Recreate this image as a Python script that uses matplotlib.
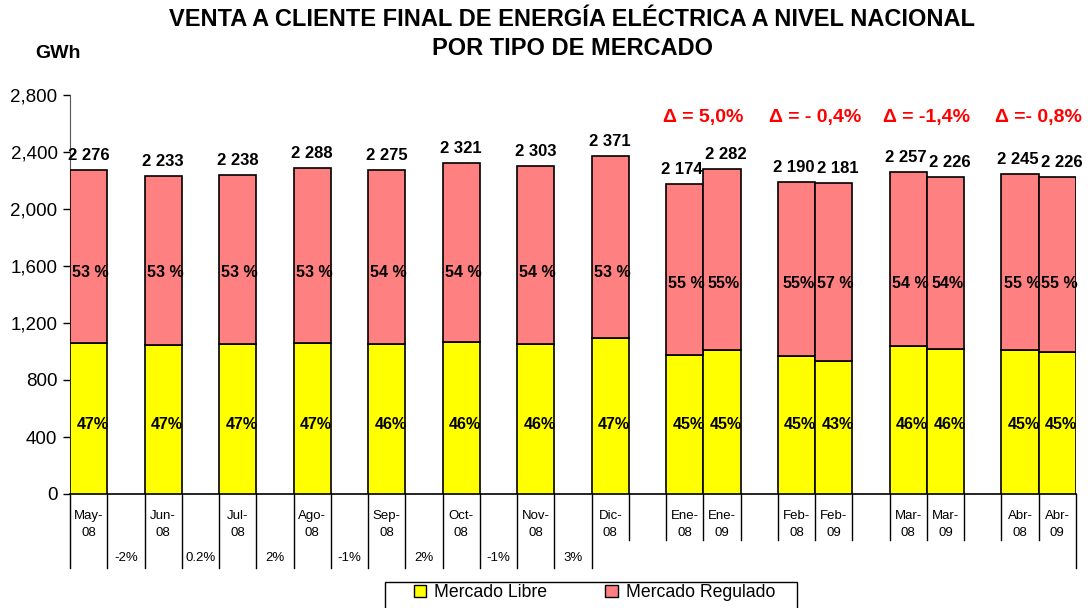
import matplotlib
matplotlib.use("Agg")
import matplotlib.pyplot as plt
from matplotlib.patches import Patch, Rectangle
import matplotlib.transforms as mtransforms
from matplotlib.ticker import FuncFormatter

plt.rcParams['font.family'] = ['Liberation Sans', 'DejaVu Sans']

# ---- data ----
slot_labels = ["May-\n08", "", "Jun-\n08", "", "Jul-\n08", "", "Ago-\n08", "", "Sep-\n08", "",
               "Oct-\n08", "", "Nov-\n08", "", "Dic-\n08", "", "Ene-\n08", "Ene-\n09", "",
               "Feb-\n08", "Feb-\n09", "", "Mar-\n08", "Mar-\n09", "", "Abr-\n08", "Abr-\n09"]
gap_labels = ["", "-2%", "", "0.2%", "", "2%", "", "-1%", "", "2%", "", "-1%", "", "3%", "",
              "", "", "", "", "", "", "", "", "", "", "", ""]
bar_slots = [0, 2, 4, 6, 8, 10, 12, 14, 16, 17, 19, 20, 22, 23, 25, 26]
totals = [2276, 2233, 2238, 2288, 2275, 2321, 2303, 2371, 2174, 2282, 2190, 2181, 2257, 2226, 2245, 2226]
libre = [1060, 1048, 1050, 1062, 1050, 1068, 1055, 1097, 975, 1010, 968, 930, 1040, 1020, 1012, 1000]
regulado = [t - l for t, l in zip(totals, libre)]
total_labels = ["2 276", "2 233", "2 238", "2 288", "2 275", "2 321", "2 303", "2 371", "2 174", "2 282",
                "2 190", "2 181", "2 257", "2 226", "2 245", "2 226"]
reg_pct = ["53 %", "53 %", "53 %", "53 %", "54 %", "54 %", "54 %", "53 %", "55 %", "55%",
           "55%", "57 %", "54 %", "54%", "55 %", "55 %"]
lib_pct = ["47%", "47%", "47%", "47%", "46%", "46%", "46%", "47%", "45%", "45%",
           "45%", "43%", "46%", "46%", "45%", "45%"]
delta_labels = ["\u0394 = 5,0%", "\u0394 = - 0,4%", "\u0394 = -1,4%", "\u0394 =- 0,8%"]
delta_pairs = [(16, 17), (19, 20), (22, 23), (25, 26)]
yticks = [0, 400, 800, 1200, 1600, 2000, 2400, 2800]

YELLOW = "#FFFF00"
PINK = "#FF8080"

fig = plt.figure(figsize=(10.88, 6.08), dpi=100)
ax = fig.add_axes([70 / 1088, 1 - 494 / 608, 1006 / 1088, 399 / 608])

ax.bar(bar_slots, libre, width=1.0, color=YELLOW, edgecolor="black", linewidth=1.2, zorder=3)
ax.bar(bar_slots, regulado, bottom=libre, width=1.0, color=PINK, edgecolor="black", linewidth=1.2, zorder=3)

n_slots = len(slot_labels)
ax.set_xlim(-0.5, n_slots - 0.5)
ax.set_ylim(0, 2800)
ax.set_yticks(yticks)
ax.yaxis.set_major_formatter(FuncFormatter(lambda v, p: f"{int(v):,}"))
ax.tick_params(axis='y', labelsize=13.5, length=5, width=1, direction='out', pad=4)
ax.set_xticks([])
for s in ['top', 'right']:
    ax.spines[s].set_visible(False)
ax.spines['left'].set_color('#555555')
ax.spines['bottom'].set_linewidth(1.2)

# totals and percentages
pair_right = {17, 20, 23, 26}
for i, s in enumerate(bar_slots):
    dx = 3 if s in pair_right else (-2 if s in {16, 19, 22, 25} else 0)
    ax.annotate(total_labels[i], (s, totals[i]), xytext=(dx, 5), textcoords='offset points',
                ha='center', va='bottom', fontsize=12, fontweight='bold', zorder=5)
    ry = 1555 if i < 8 else 1480
    ax.text(s + 0.05, ry, reg_pct[i], ha='center', va='center', fontsize=11.5, fontweight='bold', zorder=5)
    ax.text(s + 0.1, 490, lib_pct[i], ha='center', va='center', fontsize=11.5, fontweight='bold', zorder=5)

for lab, (a, b) in zip(delta_labels, delta_pairs):
    ax.text((a + b) / 2, 2640, lab, ha='center', va='center', fontsize=14, fontweight='bold',
            color='#FF0000')

# category axis below
trans = mtransforms.blended_transform_factory(ax.transData, ax.transAxes)
for i in range(n_slots + 1):
    long_line = i <= 14 or i == n_slots
    y1 = -0.185 if long_line else -0.115
    ax.plot([i - 0.5, i - 0.5], [0, y1], color='black', lw=1, transform=trans, clip_on=False)
for i, lab in enumerate(slot_labels):
    if lab:
        ax.text(i, -0.077, lab, transform=trans, ha='center', va='center', fontsize=9.5,
                linespacing=1.5)
for i, lab in enumerate(gap_labels):
    if lab:
        ax.text(i, -0.16, lab, transform=trans, ha='center', va='center', fontsize=9.5)

fig.text(0.526, 0.968, "VENTA A CLIENTE FINAL DE ENERGÍA ELÉCTRICA A NIVEL NACIONAL",
         ha='center', va='center', fontsize=17, fontweight='bold')
fig.text(0.526, 0.92, "POR TIPO DE MERCADO", ha='center', va='center', fontsize=17, fontweight='bold')
fig.text(35 / 1088, 1 - 54 / 608, "GWh", ha='left', va='center', fontsize=14, fontweight='bold')

# legend frame (extends past the bottom edge as in the reference)
fig.patches.append(Rectangle((385 / 1088, -0.02), 412 / 1088, 0.02 + 26 / 608,
                             transform=fig.transFigure, facecolor='white', edgecolor='black',
                             linewidth=1, zorder=1))
handles = [Patch(facecolor=YELLOW, edgecolor='black', label='Mercado Libre'),
           Patch(facecolor=PINK, edgecolor='black', label='Mercado Regulado')]
leg = fig.legend(handles=handles, loc='upper left', bbox_to_anchor=(414 / 1088, 1 - 584 / 608),
                 ncol=2, fontsize=12.7, frameon=False,
                 borderpad=0, handlelength=0.7, handleheight=0.7, handletextpad=0.45,
                 columnspacing=3.3, borderaxespad=0)
leg.set_zorder(2)

fig.savefig("out.png", dpi=100)
